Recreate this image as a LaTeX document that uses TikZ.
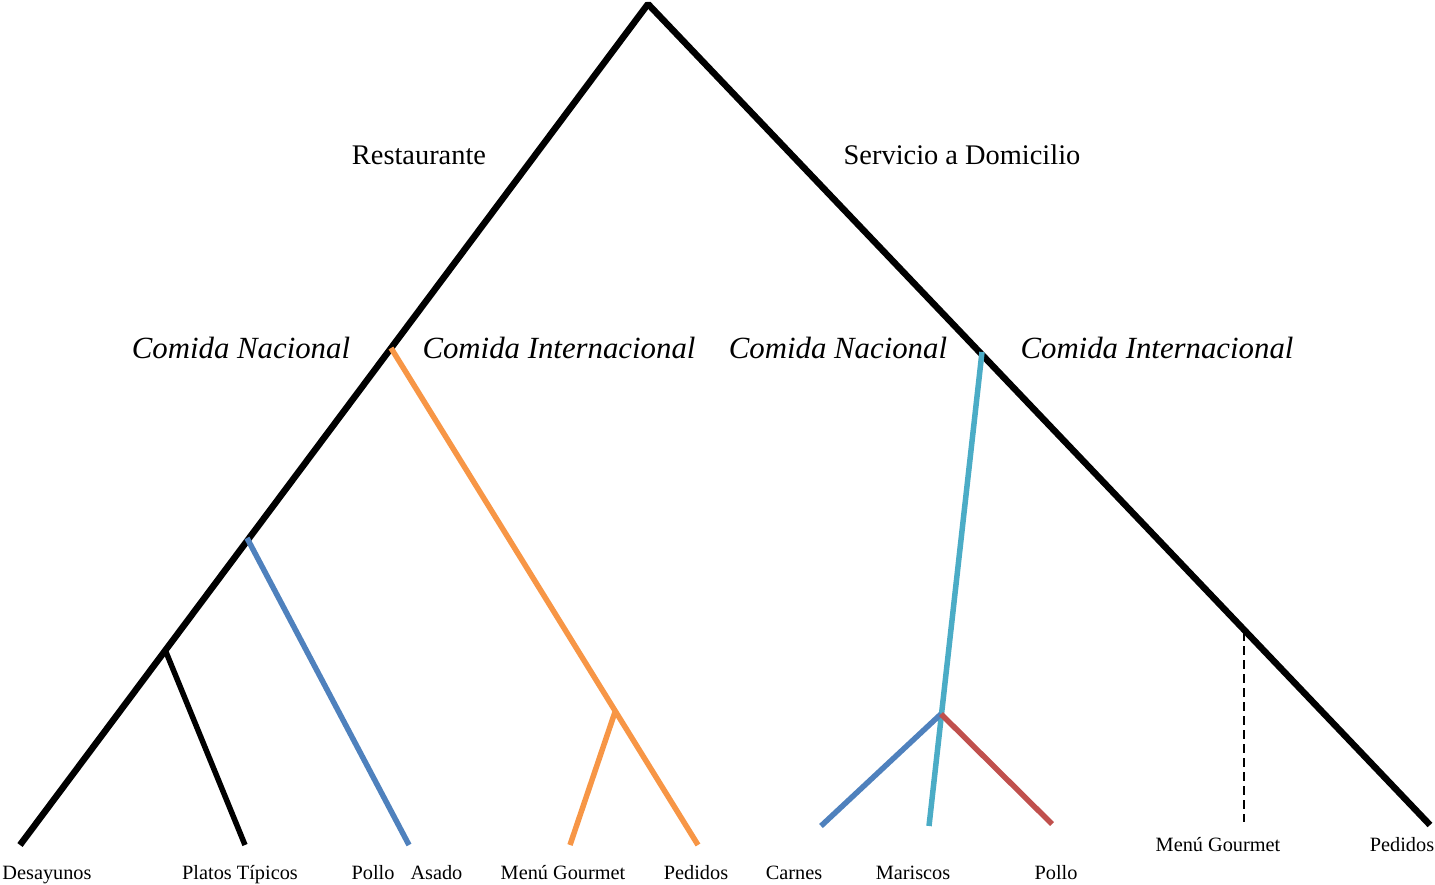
\documentclass[tikz,border=0pt]{standalone}
\usepackage{fontspec}
\setmainfont{Liberation Serif}
\usepackage{xcolor}
\usepackage{tikz}
\usetikzlibrary{positioning, calc}

\definecolor{brOrange}{HTML}{F79646}
\definecolor{brBlue}{HTML}{4F81BD}
\definecolor{brCyan}{HTML}{4BACC6}
\definecolor{brRed}{HTML}{C0504D}

\begin{document}
\begin{tikzpicture}[
    x=1pt, y=-1pt,
    trunk/.style={black, line width=6.5pt, line join=bevel},
    branch/.style={line width=5.5pt},
    toplabel/.style={font=\fontsize{28.4}{30}\selectfont, inner sep=0pt},
    midlabel/.style={font=\fontsize{30.8}{32}\selectfont\itshape, inner sep=0pt},
    leaflabel/.style={font=\fontsize{20.3}{22}\selectfont, inner sep=0pt, anchor=base}
]

\useasboundingbox (0,0) rectangle (1435,885);

% ---------- junctions ----------
\coordinate (apex)    at (648,4);
\coordinate (restA)   at (391,348);
\coordinate (restB)   at (247,538);
\coordinate (restC)   at (166,652);
\coordinate (domA)    at (982,352);
\coordinate (domB)    at (1244,632);
\coordinate (intJ)    at (615,712);
\coordinate (nacJ)    at (941,714);

% ---------- leaves ----------
\coordinate (desayunos) at (20,845);
\coordinate (platos)    at (245,845);
\coordinate (polloA)    at (409,845);
\coordinate (menuR)     at (570,845);
\coordinate (pedidosR)  at (698,845);
\coordinate (carnes)    at (821,826);
\coordinate (mariscos)  at (929,826);
\coordinate (polloD)    at (1052,824);
\coordinate (menuD)     at (1244,822);
\coordinate (pedidosD)  at (1430,825);

% ---------- main tree ----------
\draw[trunk] (desayunos) -- (apex) -- (pedidosD);
\draw[black, line width=5.5pt] (restC) -- (platos);

% ---------- coloured branches ----------
\draw[branch, brBlue] (restB) -- (polloA);
\draw[branch, brOrange] (restA) -- (pedidosR);
\draw[branch, brOrange] (intJ) -- (menuR);
\draw[branch, brCyan] (domA) -- (mariscos);
\draw[branch, brBlue] (nacJ) -- (carnes);
\draw[branch, brRed] (nacJ) -- (polloD);
\draw[black, line width=2.5pt, dash pattern=on 9pt off 5pt] (domB) -- (menuD);

% ---------- labels ----------
\node[toplabel] (lRest) at (419,155) {Restaurante};
\node[toplabel] (lDom)  at (962,155) {Servicio a Domicilio};

\node[midlabel] (lNacR) at (241,348) {Comida Nacional};
\node[midlabel] (lIntR) at (559,348) {Comida Internacional};
\node[midlabel] (lNacD) at (838,348) {Comida Nacional};
\node[midlabel] (lIntD) at (1157,348) {Comida Internacional};

\node[leaflabel] (tDes)   at (47,879)   {Desayunos};
\node[leaflabel] (tPla)   at (240,879)  {Platos Típicos};
\node[leaflabel] (tPol)   at (407,879)  {Pollo\hspace{11pt} Asado};
\node[leaflabel] (tMenR)  at (563,879)  {Menú Gourmet};
\node[leaflabel] (tPedR)  at (696,879)  {Pedidos};
\node[leaflabel] (tCar)   at (794,879)  {Carnes};
\node[leaflabel] (tMar)   at (913,879)  {Mariscos};
\node[leaflabel] (tPolD)  at (1056,879) {Pollo};
\node[leaflabel] (tMenD)  at (1218,851) {Menú Gourmet};
\node[leaflabel] (tPedD)  at (1402,851) {Pedidos};

\end{tikzpicture}
\end{document}
